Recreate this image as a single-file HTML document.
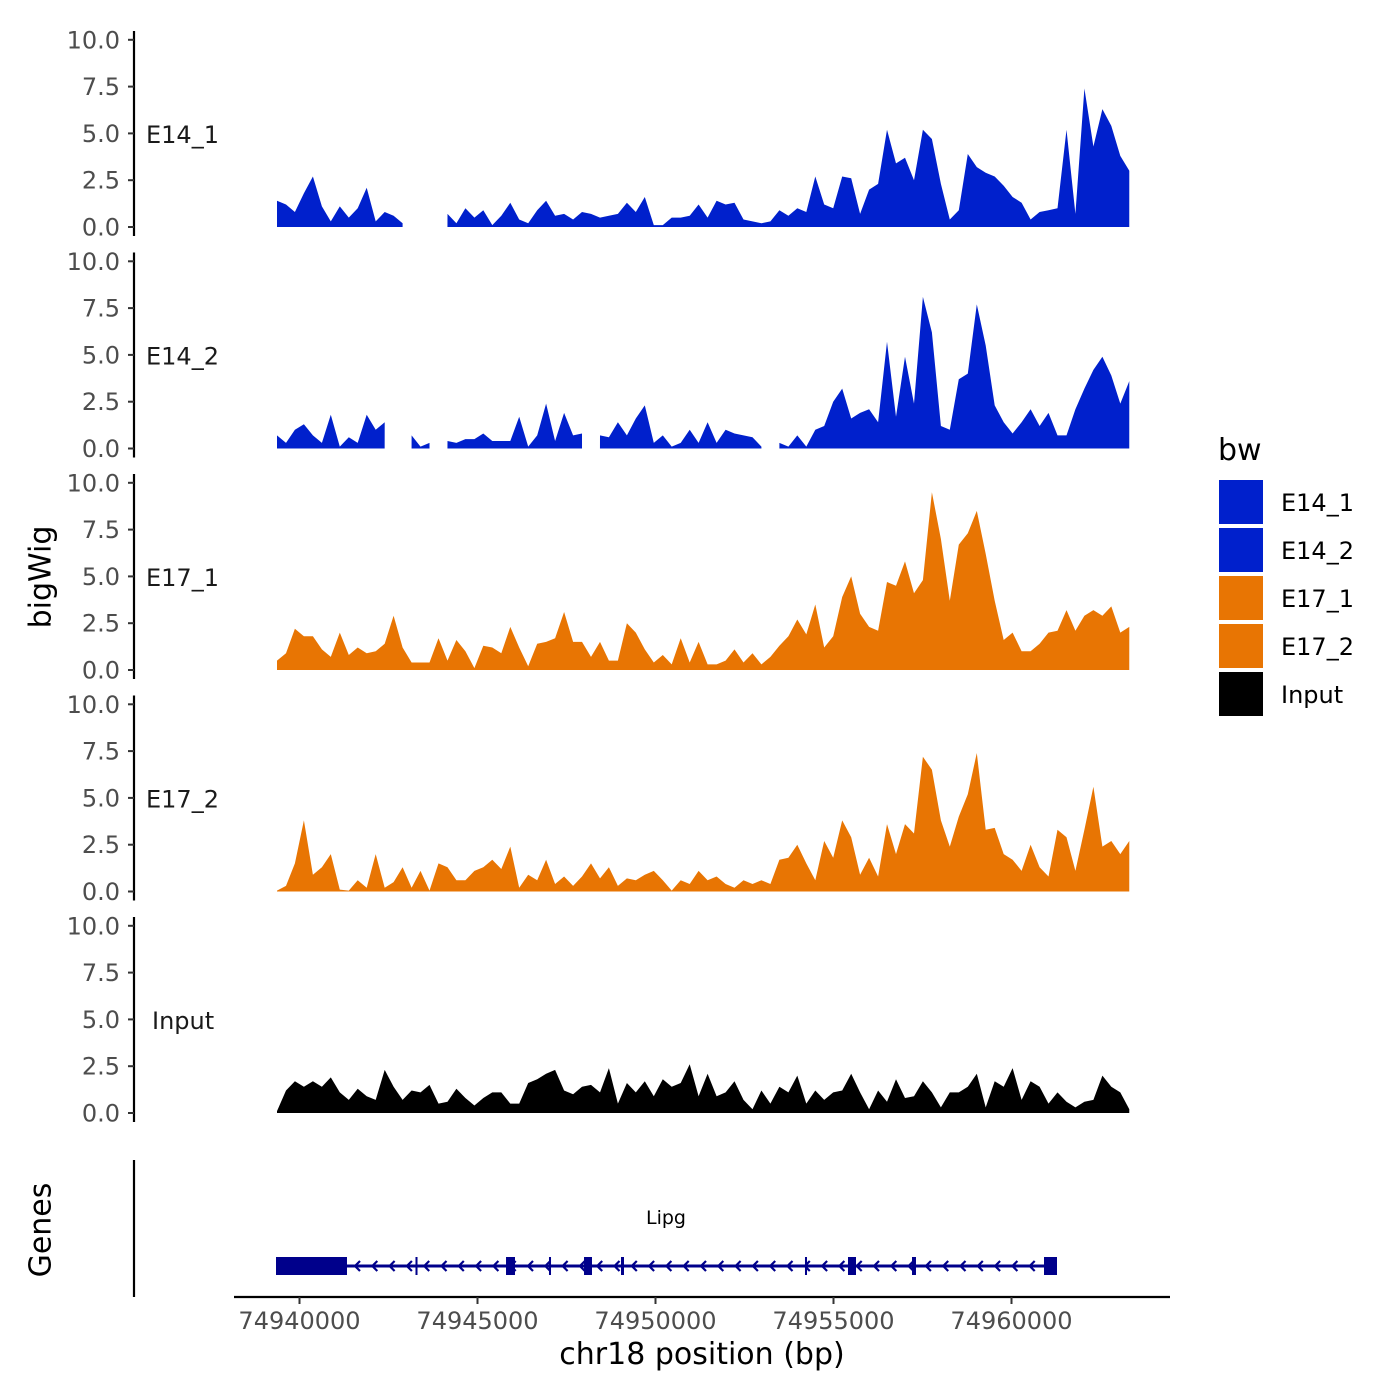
<!DOCTYPE html>
<html><head><meta charset="utf-8"><style>
body{margin:0;background:#fff}
svg{display:block;font-family:"DejaVu Sans","Liberation Sans",sans-serif}
</style></head><body>
<svg id="chart" width="1400" height="1400" viewBox="0 0 1400 1400" xmlns="http://www.w3.org/2000/svg">
<rect width="1400" height="1400" fill="#fff"/>
<g id="panels"></g>
<g id="genes"></g>
<text x="42" y="577" transform="rotate(-90 42 577)" text-anchor="middle" dominant-baseline="middle" font-size="30" fill="#000">bigWig</text>
<text x="42" y="1230" transform="rotate(-90 42 1230)" text-anchor="middle" dominant-baseline="middle" font-size="30" fill="#000">Genes</text>
<text x="702" y="1364" text-anchor="middle" font-size="30" fill="#000">chr18 position (bp)</text>
<g id="legend"></g>
</svg>
<script>
const trackNames = ["E14_1","E14_2","E17_1","E17_2","Input"];
const trackColors = ["#0020CC","#0020CC","#E87503","#E87503","#000000"];
const startBp = 74939368;
const stepBp = 252;
const yTicks = [0,2.5,5,7.5,10];
const yTickLabels = ["0.0","2.5","5.0","7.5","10.0"];
const xTicks = [74940000,74945000,74950000,74955000,74960000];
const e14_1 = [1.4,1.2,0.8,1.8,2.7,1.1,0.3,1.1,0.5,1.0,2.1,0.3,0.8,0.6,0.2,null,null,null,null,0.7,0.2,1.0,0.5,0.9,0.1,0.6,1.3,0.4,0.2,0.9,1.4,0.6,0.7,0.4,0.8,0.7,0.5,0.6,0.7,1.3,0.8,1.6,0.1,0.1,0.5,0.5,0.6,1.2,0.5,1.4,1.2,1.3,0.4,0.3,0.2,0.3,0.9,0.6,1.0,0.8,2.7,1.2,1.0,2.7,2.6,0.7,2.0,2.3,5.2,3.4,3.7,2.5,5.2,4.7,2.3,0.4,0.9,3.9,3.2,2.9,2.7,2.2,1.6,1.3,0.4,0.8,0.9,1.0,5.2,0.7,7.4,4.3,6.3,5.4,3.8,3.0];
const e14_2 = [0.7,0.3,1.0,1.3,0.7,0.3,1.8,0.1,0.6,0.3,1.8,1.0,1.4,null,null,0.7,0.1,0.3,null,0.4,0.3,0.5,0.5,0.8,0.4,0.4,0.4,1.7,0.1,0.7,2.4,0.4,1.9,0.7,0.8,null,0.7,0.6,1.4,0.7,1.6,2.3,0.3,0.7,0.1,0.3,1.0,0.3,1.4,0.3,1.0,0.8,0.7,0.6,0.1,null,0.3,0.1,0.7,0.1,1.0,1.2,2.5,3.2,1.6,1.9,2.1,1.4,5.7,1.7,4.9,2.4,8.1,6.2,1.2,1.0,3.7,4.0,7.7,5.5,2.3,1.4,0.8,1.4,2.1,1.2,1.9,0.7,0.7,2.1,3.2,4.2,4.9,3.9,2.4,3.6];
const e17_1 = [0.5,0.9,2.2,1.8,1.8,1.1,0.7,2.0,0.8,1.2,0.9,1.0,1.4,2.9,1.2,0.4,0.4,0.4,1.7,0.5,1.6,1.0,0.1,1.3,1.2,0.9,2.3,1.2,0.2,1.4,1.5,1.7,3.1,1.5,1.5,0.7,1.5,0.5,0.5,2.5,2.0,1.1,0.4,0.8,0.3,1.7,0.4,1.5,0.3,0.3,0.5,1.1,0.4,0.9,0.3,0.7,1.3,1.8,2.7,1.9,3.5,1.2,1.8,3.9,5.0,3.0,2.3,2.1,4.7,4.5,5.8,4.1,4.8,9.5,7.0,3.7,6.7,7.3,8.5,6.2,3.7,1.6,2.0,1.0,1.0,1.4,2.0,2.1,3.2,2.1,2.9,3.2,2.9,3.4,2.0,2.3];
const e17_2 = [0.05,0.3,1.5,3.8,0.9,1.3,2.0,0.1,0.05,0.6,0.2,2.0,0.2,0.5,1.3,0.2,1.1,0.05,1.5,1.3,0.6,0.6,1.1,1.3,1.7,1.2,2.4,0.2,0.9,0.6,1.7,0.4,0.8,0.3,0.8,1.5,0.7,1.3,0.3,0.7,0.6,0.9,1.1,0.6,0.05,0.6,0.4,1.1,0.6,0.8,0.4,0.2,0.6,0.4,0.6,0.4,1.7,1.8,2.5,1.5,0.6,2.7,1.8,3.8,2.9,0.9,1.8,0.8,3.6,2.0,3.6,3.1,7.2,6.5,3.8,2.4,4.0,5.2,7.4,3.3,3.4,2.0,1.7,1.1,2.5,1.3,0.8,3.3,2.9,1.1,3.3,5.6,2.4,2.7,2.0,2.7];
const inputTrack = [0.1,1.2,1.7,1.4,1.7,1.4,1.9,1.1,0.7,1.3,0.9,0.7,2.3,1.4,0.7,1.2,1.1,1.5,0.5,0.6,1.3,0.8,0.4,0.8,1.1,1.1,0.5,0.5,1.6,1.8,2.1,2.3,1.2,1.0,1.4,1.5,1.1,2.4,0.5,1.6,1.1,1.7,0.9,1.8,1.4,1.6,2.6,0.9,2.1,0.9,1.1,1.7,0.7,0.2,1.2,0.5,1.4,1.1,2.0,0.5,1.2,0.7,1.1,1.2,2.1,1.1,0.2,1.2,0.6,1.8,0.8,0.9,1.7,1.1,0.3,1.1,1.1,1.4,2.1,0.3,1.7,1.4,2.4,0.7,1.7,1.4,0.5,1.1,0.6,0.3,0.6,0.7,2.0,1.4,1.1,0.2];
const seriesList = [e14_1,e14_2,e17_1,e17_2,inputTrack];
const exonStarts = [74939340,74943258,74945801,74947008,74947992,74949031,74954199,74955407,74957205,74960913];
const exonEnds   = [74941334,74943315,74946053,74947065,74948216,74949115,74954256,74955632,74957317,74961278];
const geneStart = 74939340, geneEnd = 74961278;

const NS="http://www.w3.org/2000/svg";
function xScale(bp){return 299.5+(bp-74940000)*0.0356;}
function yScale(p,v){return 227+221.5*p - v*18.72;}
function mk(tag,attrs,parent){const e=document.createElementNS(NS,tag);for(const k in attrs)e.setAttribute(k,attrs[k]);parent.appendChild(e);return e;}
const panels=document.getElementById('panels');
seriesList.forEach((vals,p)=>{
  const g=mk('g',{},panels);
  
  
  const y0=yScale(p,0);
  let segs=[],cur=[];
  vals.forEach((v,i)=>{if(v===null){if(cur.length)segs.push(cur);cur=[];}else cur.push([xScale(startBp+stepBp*i),yScale(p,v)]);});
  if(cur.length)segs.push(cur);
  segs.forEach(s=>{
    let d='M'+s[0][0]+','+y0;
    s.forEach(pt=>{d+=' L'+pt[0].toFixed(1)+','+pt[1].toFixed(1);});
    d+=' L'+s[s.length-1][0]+','+y0+' Z';
    const a=mk('path',{d:d,fill:trackColors[p]},g);
    
    
  });
  const ax=mk('line',{x1:134,x2:134,y1:y0-196,y2:y0+9,stroke:'#000','stroke-width':2.2},g);
  
  
  yTicks.forEach((t,k)=>{
    const yy=yScale(p,t);
    mk('line',{x1:128,x2:134,y1:yy,y2:yy,stroke:'#333','stroke-width':2},g);
    const tx=mk('text',{x:120,y:yy+8.5,'text-anchor':'end','font-size':24,fill:'#4d4d4d'},g);
    tx.textContent=yTickLabels[k];
    
    
  });
  const lb=mk('text',{x:p===4?152:146,y:y0-93+9,'font-size':24,fill:'#1a1a1a'},g);
  lb.textContent=trackNames[p];
  
  
});
const gg=document.getElementById('genes');
mk('line',{x1:134,x2:134,y1:1160,y2:1297,stroke:'#000','stroke-width':2.2},gg);
const gl=mk('line',{x1:xScale(geneStart),x2:xScale(geneEnd),y1:1266,y2:1266,stroke:'#00008B','stroke-width':3},gg);


for(let x=xScale(geneStart)+80;x<xScale(geneEnd)-8;x+=17.3){
  mk('path',{d:`M${x+4},${1261} L${x-1},1266 L${x+4},1271`,fill:'none',stroke:'#00008B','stroke-width':2.2},gg);
}
exonStarts.forEach((s,i)=>{
  const x1=xScale(s),x2=xScale(exonEnds[i]);
  const r=mk('rect',{x:x1,y:1257,width:Math.max(2,x2-x1),height:18,fill:'#00008B'},gg);
  
  
});
const gname=mk('text',{x:666,y:1224,'text-anchor':'middle','font-size':19,fill:'#000'},gg);
gname.textContent='Lipg';


mk('line',{x1:234,x2:1170,y1:1297,y2:1297,stroke:'#000','stroke-width':2.2},gg);
xTicks.forEach(t=>{
  const x=xScale(t);
  mk('line',{x1:x,x2:x,y1:1297,y2:1304,stroke:'#333','stroke-width':2},gg);
  const tx=mk('text',{x:x,y:1329,'text-anchor':'middle','font-size':24,fill:'#4d4d4d'},gg);
  tx.textContent=String(t);
  
  
});
const lg=document.getElementById('legend');
const lt=mk('text',{x:1218,y:460,'font-size':30,fill:'#000'},lg);
lt.textContent='bw';


trackNames.forEach((n,i)=>{
  const y=480+i*48;
  const r=mk('rect',{x:1219,y:y,width:44,height:44,fill:trackColors[i]},lg);
  
  
  const t=mk('text',{x:1281,y:y+31,'font-size':24,fill:'#000'},lg);
  t.textContent=n;
  
  
});
</script>
</body></html>
